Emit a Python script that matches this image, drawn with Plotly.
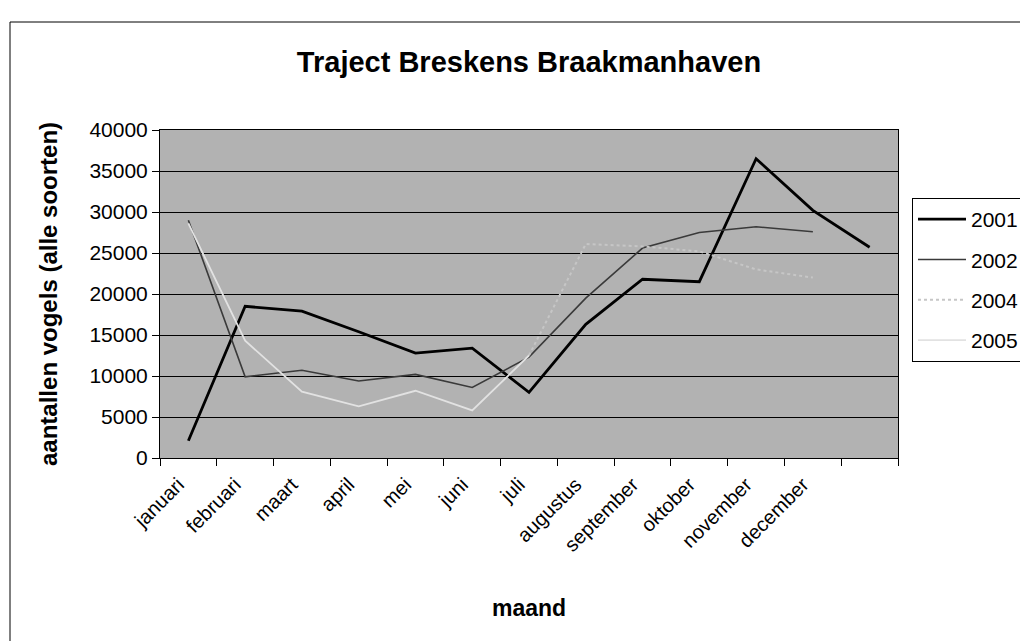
import plotly.graph_objects as go

months = ["januari", "februari", "maart", "april", "mei", "juni", "juli",
          "augustus", "september", "oktober", "november", "december", " "]

y2001 = [2100, 18500, 17900, 15400, 12800, 13400, 8000, 16300, 21800, 21500, 36500, 30200, 25700]
y2002 = [29000, 9900, 10700, 9400, 10200, 8600, 12300, 19500, 25600, 27500, 28200, 27600, None]
y2004 = [None, None, None, None, None, None, 12500, 26100, 25800, 25200, 23000, 22000, None]
y2005 = [28600, 14300, 8100, 6300, 8200, 5800, 12500, None, None, None, None, None, None]

series = [
    ("2001", y2001, "#000000", 2.8, "solid"),
    ("2002", y2002, "#3a3a3a", 1.6, "solid"),
    ("2004", y2004, "#c6c6c6", 2.0, "dot"),
    ("2005", y2005, "#e2e2e2", 1.8, "solid"),
]

FONT = "Arial, Liberation Sans, sans-serif"

fig = go.Figure()
for i, (name, ys, col, w, dash) in enumerate(series):
    fig.add_trace(go.Scatter(
        x=months, y=ys, name=name, mode="lines",
        line=dict(color=col, width=w, dash=dash),
        connectgaps=False, legendgroup=f"g{i}",
    ))

# page is offset by the 8px body margin, so figure coords = screen - 8
OFF = 8
W, H = 1028 - OFF, 641 - OFF
L, R, T, B = 160 - OFF, 898 - OFF, 130 - OFF, 458 - OFF
PW, PH = R - L, B - T

def px(xs):
    return (xs - OFF - L) / PW

def py(ys):
    return (B - (ys - OFF)) / PH

fig.update_layout(
    width=W, height=H,
    margin=dict(l=L, r=W - R, t=T, b=H - B, autoexpand=False),
    paper_bgcolor="white",
    plot_bgcolor="#b2b2b2",
    font=dict(family=FONT, color="black", size=20),
    title=dict(text="<b>Traject Breskens Braakmanhaven</b>",
               font=dict(size=29, family=FONT, color="black"),
               x=(529 - OFF) / W, xanchor="center", y=1 - (62 - OFF) / H, yanchor="middle"),
    showlegend=True,
    legend=dict(x=px(912), xanchor="left", y=py(198), yanchor="top",
                bgcolor="white", bordercolor="black", borderwidth=1,
                font=dict(size=21, family=FONT), itemwidth=48,
                tracegroupgap=10, traceorder="grouped"),
)

fig.update_xaxes(
    type="category", categoryorder="array", categoryarray=months,
    range=[-0.5, 12.5], tickson="boundaries",
    ticks="outside", ticklen=7, tickcolor="black", tickwidth=1,
    tickangle=-45, tickfont=dict(size=20, family=FONT),
    ticklabelshift=-10, ticklabelstandoff=6,
    showline=True, linecolor="black", linewidth=1, mirror=True,
    showgrid=False, zeroline=False,
)
fig.update_yaxes(
    range=[0, 40000], tickmode="linear", tick0=0, dtick=5000,
    ticks="outside", ticklen=7, tickcolor="black", tickwidth=1,
    tickfont=dict(size=21, family=FONT), tickformat="d",
    showline=True, linecolor="black", linewidth=1, mirror=True,
    showgrid=True, gridcolor="black", gridwidth=1, zeroline=False,
)

# axis titles
fig.add_annotation(text="<b>maand</b>", xref="paper", yref="paper",
                   x=px(529), y=py(608), xanchor="center", yanchor="middle",
                   showarrow=False, font=dict(size=23, family=FONT, color="black"))
fig.add_annotation(text="<b>aantallen vogels (alle soorten)</b>", xref="paper", yref="paper",
                   x=px(48), y=py(294), xanchor="center", yanchor="middle", textangle=-90,
                   showarrow=False, font=dict(size=24, family=FONT, color="black"))

# outer chart frame
fig.add_shape(type="rect", xref="paper", yref="paper",
              x0=px(10), x1=px(1050), y0=py(680), y1=py(22),
              line=dict(color="black", width=1), fillcolor="rgba(0,0,0,0)", layer="below")

fig.write_html("out.html")
